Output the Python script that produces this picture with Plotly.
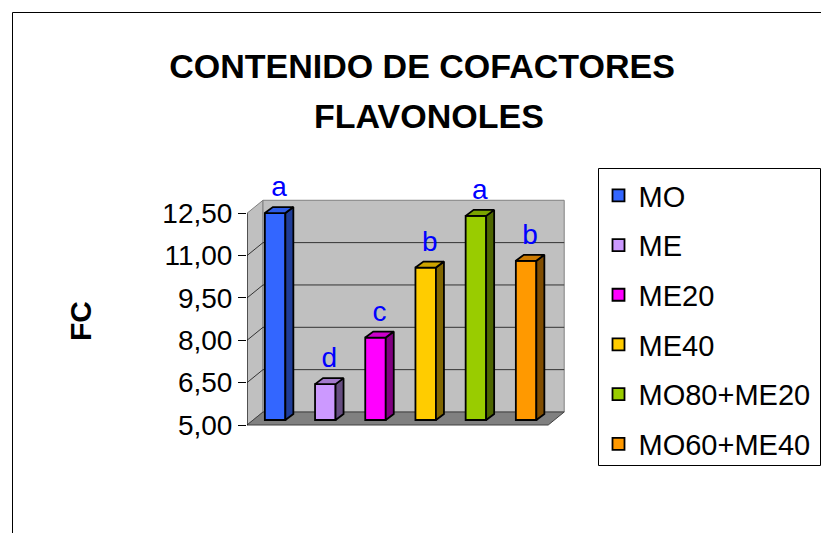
import plotly.graph_objects as go

# ---------------- data ----------------
categories = ["MO", "ME", "ME20", "ME40", "MO80+ME20", "MO60+ME40"]
values = [12.33, 6.27, 7.92, 10.40, 12.23, 10.64]
letters = ["a", "d", "c", "b", "a", "b"]
tick_values = [5.0, 6.5, 8.0, 9.5, 11.0, 12.5]
y_title = "FC"
title_line1 = "CONTENIDO DE COFACTORES"
title_line2 = "FLAVONOLES"

# ---------------- style ----------------
front_colors = ["#3366FF", "#CC99FF", "#FF00FF", "#FFCC00", "#99CC00", "#FF9900"]
top_colors = ["#2E5CE6", "#A37ACC", "#CC00CC", "#CCA300", "#7AA300", "#CC7A00"]
side_colors = ["#1F3D99", "#664D80", "#800080", "#806600", "#4D6600", "#804D00"]
FONT = "Liberation Sans, Arial, sans-serif"

OFF = 8                      # page body margin
W, H = 829 - OFF, 533 - OFF
# screen-pixel geometry
X_LEFT_S = 247               # front-left corner (y axis)
Y_BASE_S = 425               # screen y of value 5.00
PLOT_TOP_S, PLOT_BOTTOM_S = 130, 485
PLOT_RIGHT_S = 568

ML = X_LEFT_S - OFF
MT = PLOT_TOP_S - OFF
MB = H - (PLOT_BOTTOM_S - OFF)
MR = W - (PLOT_RIGHT_S - OFF)
PW, PH = W - ML - MR, H - MT - MB
SX = 50.2          # px per category slot
SY = 28.23         # px per value unit
Y0 = tick_values[0]
xr = [0, PW / SX]
yr = [Y0 - (PLOT_BOTTOM_S - Y_BASE_S) / SY, Y0 + (Y_BASE_S - PLOT_TOP_S) / SY]

DX, DV = 16 / SX, 13 / SY        # full depth offset
BOFF, BW = 3 / SX, 20.5 / SX     # bar front offset / width
BV = 5 / SY                      # bar front-plane vertical shift
DDX, DDV = 8 / SX, 6 / SY        # bar depth
LABEL_LIFT = 4 / SY              # letters sit a little higher

n = len(categories)
ymax = tick_values[-1]


def pxx(px):  # screen px -> paper x
    return (px - X_LEFT_S) / PW


def pyy(py):  # screen py -> paper y
    return (PLOT_BOTTOM_S - py) / PH


def path(pts):
    return "M " + " L ".join(f"{x},{y}" for x, y in pts) + " Z"


shapes = []
# side wall
shapes.append(dict(type="path", xref="x", yref="y", layer="below",
                   path=path([(0, Y0), (0, ymax), (DX, ymax + DV), (DX, Y0 + DV)]),
                   fillcolor="#C0C0C0", line=dict(color="#808080", width=1)))
# back wall
shapes.append(dict(type="path", xref="x", yref="y", layer="below",
                   path=path([(DX, Y0 + DV), (DX, ymax + DV), (n + DX, ymax + DV), (n + DX, Y0 + DV)]),
                   fillcolor="#C0C0C0", line=dict(color="#808080", width=1)))
# grid lines
for t in tick_values[1:-1]:
    shapes.append(dict(type="path", xref="x", yref="y", layer="below",
                       path=f"M 0,{t} L {DX},{t + DV} L {n + DX},{t + DV}",
                       line=dict(color="#333333", width=1)))
# floor
shapes.append(dict(type="path", xref="x", yref="y", layer="below",
                   path=path([(0, Y0), (n, Y0), (n + DX, Y0 + DV), (DX, Y0 + DV)]),
                   fillcolor="#808080", line=dict(color="#404040", width=1)))
# axis line
shapes.append(dict(type="line", xref="x", yref="y", x0=0, x1=0, y0=Y0, y1=ymax,
                   line=dict(color="#000000", width=1)))
# legend frame
shapes.append(dict(type="rect", xref="paper", yref="paper",
                   x0=pxx(598.5), x1=pxx(820.5), y0=pyy(465.5), y1=pyy(168.5),
                   line=dict(color="#000000", width=1), fillcolor="rgba(0,0,0,0)"))
# outer chart frame
shapes.append(dict(type="rect", xref="paper", yref="paper",
                   x0=pxx(12.5), x1=pxx(860), y0=pyy(570), y1=pyy(12.5),
                   line=dict(color="#000000", width=1), fillcolor="rgba(0,0,0,0)"))

fig = go.Figure()

for i, (cat, v) in enumerate(zip(categories, values)):
    xc = i + 0.5 + BOFF
    fig.add_trace(go.Bar(
        x=[xc], y=[v - Y0], base=[Y0 + BV], width=BW, name=cat,
        legendgroup=cat,
        marker=dict(color=front_colors[i], line=dict(color="#000000", width=1.8)),
    ))

for i, v in enumerate(values):
    xl = i + 0.5 + BOFF - BW / 2
    xrt = xl + BW
    b = Y0 + BV
    t = v + BV
    # side face
    fig.add_trace(go.Scatter(
        x=[xrt, xrt + DDX, xrt + DDX, xrt, xrt],
        y=[b, b + DDV, t + DDV, t, b],
        fill="toself", fillcolor=side_colors[i], mode="lines",
        line=dict(color="#000000", width=1.8), showlegend=False, hoverinfo="skip"))
    # top face
    fig.add_trace(go.Scatter(
        x=[xl, xrt, xrt + DDX, xl + DDX, xl],
        y=[t, t, t + DDV, t + DDV, t],
        fill="toself", fillcolor=top_colors[i], mode="lines",
        line=dict(color="#000000", width=1.8), showlegend=False, hoverinfo="skip"))

# significance letters
fig.add_trace(go.Scatter(
    x=[i + 0.5 + BOFF + DDX / 2 for i in range(n)],
    y=[v + BV + DDV + LABEL_LIFT for v in values],
    text=letters, mode="text", textposition="top center",
    textfont=dict(family=FONT, size=28, color="#0000FF"),
    showlegend=False, hoverinfo="skip", cliponaxis=False))

fig.update_layout(
    width=W, height=H,
    margin=dict(l=ML, r=MR, t=MT, b=MB, autoexpand=False),
    paper_bgcolor="#FFFFFF", plot_bgcolor="rgba(0,0,0,0)",
    separators=",.",
    barmode="overlay",
    showlegend=True,
    shapes=shapes,
    title=dict(text=title_line1, x=(422 - OFF) / W, xanchor="center",
               y=1 - (66 - OFF) / H, yanchor="middle", xref="container", yref="container",
               font=dict(family=FONT, size=34, color="#000000", weight="bold")),
    legend=dict(x=pxx(598.5), y=pyy(170), xanchor="left", yanchor="top",
                bgcolor="rgba(0,0,0,0)", borderwidth=0,
                font=dict(family=FONT, size=29, color="#000000"),
                tracegroupgap=9, traceorder="grouped"),
    annotations=[
        dict(text=title_line2, x=pxx(429), y=pyy(116), xref="paper", yref="paper",
             xanchor="center", yanchor="middle", showarrow=False,
             font=dict(family=FONT, size=34, color="#000000", weight="bold")),
        dict(text=y_title, x=pxx(80), y=pyy(321), xref="paper", yref="paper",
             xanchor="center", yanchor="middle", showarrow=False, textangle=-90,
             font=dict(family=FONT, size=30, color="#000000", weight="bold")),
    ],
)

fig.update_xaxes(range=xr, showgrid=False, zeroline=False, showline=False,
                 showticklabels=False, ticks="", fixedrange=True, automargin=False)
fig.update_yaxes(range=yr, showgrid=False, zeroline=False, showline=False,
                 tickvals=tick_values, tickformat=".2f", ticks="outside",
                 ticklen=8, tickwidth=1, tickcolor="#000000",
                 tickfont=dict(family=FONT, size=28, color="#000000"),
                 fixedrange=True, automargin=False)

fig.write_html("out.html")
